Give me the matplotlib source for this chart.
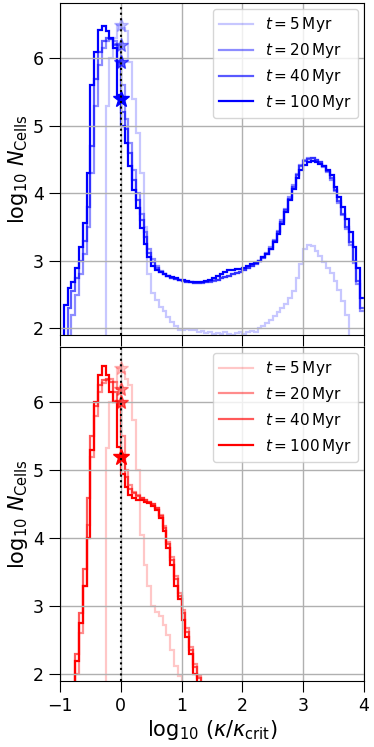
import matplotlib
matplotlib.use("Agg")
import matplotlib.pyplot as plt
import numpy as np

# histogram bins in log10(kappa / kappa_crit)
BIN_EDGES = np.linspace(-1.0, 4.0, 81)

TIMES = [5, 20, 40, 100]
ALPHAS = [0.22, 0.45, 0.65, 1.0]

# top panel (blue) log10 N per bin, ten bins per row
blue_5 = [0] * 12 + [
    5.3, 6.0, 6.3, 6.5, 6.45, 6.4, 5.95, 5.4, 4.9, 4.3,
    3.5, 2.8, 2.52, 2.42, 2.32, 2.26, 2.17, 2.1, 2.04, 1.98,
    1.97, 1.99, 1.97, 1.98, 1.94, 1.96, 1.93, 1.95, 1.92, 1.93,
    1.91, 1.94, 1.92, 1.9, 1.93, 1.94, 1.92, 1.95, 1.96, 1.94,
    2.0, 2.04, 2.08, 2.12, 2.18, 2.24, 2.3, 2.36, 2.45, 2.55,
    2.75, 2.95, 3.18, 3.24, 3.22, 3.15, 3.07, 2.98, 2.9, 2.82,
    2.7, 2.56, 2.4, 2.2] + [0] * 4
blue_20 = [
    0, 0, 0, 2.2, 2.5, 2.8, 3.1, 3.5, 4.3, 5.3,
    5.9, 6.15, 6.25, 6.28, 6.25, 6.2, 5.6, 5.1, 4.75, 4.35,
    4.0, 3.7, 3.42, 3.18, 3.02, 2.92, 2.85, 2.8, 2.77, 2.75,
    2.73, 2.71, 2.7, 2.69, 2.68, 2.67, 2.67, 2.68, 2.69, 2.7,
    2.71, 2.72, 2.74, 2.76, 2.78, 2.8, 2.82, 2.84, 2.86, 2.89,
    2.92, 2.96, 3.0, 3.05, 3.12, 3.2, 3.31, 3.44, 3.6, 3.77,
    3.95, 4.12, 4.29, 4.42, 4.5, 4.53, 4.53, 4.5, 4.46, 4.39,
    4.31, 4.2, 4.03, 3.86, 3.68, 3.47, 3.24, 2.97, 2.66, 2.25]
blue_40 = [
    0, 0, 2.3, 2.55, 2.75, 3.0, 3.3, 3.8, 4.7, 5.7,
    6.1, 6.25, 6.3, 6.28, 6.2, 5.95, 5.2, 4.95, 4.6, 4.2,
    3.9, 3.6, 3.35, 3.12, 2.98, 2.9, 2.84, 2.8, 2.77, 2.75,
    2.73, 2.71, 2.7, 2.69, 2.68, 2.67, 2.67, 2.67, 2.68, 2.69,
    2.7, 2.72, 2.74, 2.76, 2.78, 2.8, 2.82, 2.84, 2.86, 2.89,
    2.92, 2.95, 2.99, 3.04, 3.1, 3.18, 3.3, 3.43, 3.58, 3.75,
    3.92, 4.1, 4.27, 4.4, 4.48, 4.51, 4.52, 4.5, 4.46, 4.4,
    4.33, 4.22, 4.05, 3.88, 3.7, 3.5, 3.28, 3.0, 2.7, 2.3]
blue_100 = [
    0, 2.35, 2.6, 2.68, 2.9, 3.2, 3.56, 4.3, 5.6, 6.1,
    6.42, 6.48, 6.4, 6.3, 6.15, 5.45, 5.0, 4.75, 4.4, 4.05,
    3.78, 3.48, 3.25, 3.05, 2.93, 2.87, 2.83, 2.8, 2.77, 2.76,
    2.74, 2.72, 2.71, 2.7, 2.69, 2.69, 2.68, 2.69, 2.7, 2.72,
    2.75, 2.78, 2.81, 2.84, 2.86, 2.87, 2.88, 2.88, 2.9, 2.93,
    2.95, 2.97, 3.0, 3.05, 3.1, 3.17, 3.28, 3.4, 3.55, 3.73,
    3.9, 4.06, 4.22, 4.35, 4.42, 4.47, 4.48, 4.47, 4.44, 4.4,
    4.35, 4.27, 4.1, 3.95, 3.8, 3.62, 3.42, 3.2, 2.9, 2.45]

# bottom panel (red)
red_5 = [0] * 12 + [
    5.33, 6.0, 6.3, 6.5, 6.45, 6.35, 6.25, 5.74, 5.0, 4.05,
    3.6, 3.3, 3.0, 2.92, 2.85, 2.72, 2.58, 2.35, 2.12, 1.97] + [0] * 48
red_20 = [0] * 4 + [
    2.0, 2.6, 3.3, 4.2, 5.2, 5.8, 6.15, 6.28, 6.33, 6.35,
    6.3, 6.2, 5.5, 5.0, 4.78, 4.68, 4.64, 4.6, 4.57, 4.54,
    4.5, 4.45, 4.35, 4.18, 3.95, 3.72, 3.45, 3.2, 2.95, 2.68,
    2.4, 2.15, 1.98] + [0] * 43
red_40 = [0] * 4 + [
    2.3, 2.9, 3.55, 4.6, 5.5, 5.95, 6.25, 6.33, 6.35, 6.3,
    6.15, 6.0, 5.2, 4.9, 4.72, 4.66, 4.62, 4.6, 4.57, 4.54,
    4.5, 4.44, 4.33, 4.15, 3.92, 3.68, 3.4, 3.15, 2.9, 2.62,
    2.35, 2.1, 1.95] + [0] * 43
red_100 = [0] * 4 + [
    2.2, 2.75, 3.3, 4.0, 5.3, 6.0, 6.4, 6.53, 6.4, 6.15,
    6.0, 5.35, 4.95, 4.75, 4.63, 4.59, 4.57, 4.56, 4.54, 4.52,
    4.48, 4.42, 4.3, 4.1, 3.85, 3.6, 3.3, 3.1, 2.8, 2.55,
    2.3, 2.0] + [0] * 44

# value at kappa = kappa_crit (star markers)
blue_star = [6.5, 6.2, 5.95, 5.4]
red_star = [6.5, 6.2, 6.0, 5.2]

plt.rcParams["mathtext.fontset"] = "dejavusans"

fig = plt.figure(figsize=(3.74, 7.47), dpi=100)
ax_top = fig.add_axes([0.1604, 0.5515, 0.8128, 0.4445])
ax_bot = fig.add_axes([0.1604, 0.0884, 0.8128, 0.4475])


def draw_panel(ax, series, stars, color):
    for t, alpha, vals, ystar in zip(TIMES, ALPHAS, series, stars):
        ax.stairs(vals, BIN_EDGES, baseline=None, color=color, alpha=alpha,
                  lw=1.6, label=rf"$t = {t}\,\mathrm{{Myr}}$")
        ax.plot([0], [ystar], marker="*", ms=12 if t == 100 else 10,
                color=color, alpha=alpha, ls="none")
    ax.axvline(0, color="black", ls=":", lw=1.5)
    ax.set_xlim(-1, 4)
    ax.set_ylim(1.9, 6.82)
    ax.set_xticks([-1, 0, 1, 2, 3, 4])
    ax.set_yticks([2, 3, 4, 5, 6])
    ax.grid(True, color="#b0b0b0", lw=1)
    ax.tick_params(direction="out", length=8, labelsize=12.5)
    ax.set_ylabel(r"$\log_{10}\,N_{\rm Cells}$", fontsize=15, labelpad=2)
    ax.legend(loc="upper right", fontsize=11, handlelength=2.2,
              labelspacing=0.45, borderaxespad=0.4)


draw_panel(ax_top, [blue_5, blue_20, blue_40, blue_100], blue_star, "#0000ff")
draw_panel(ax_bot, [red_5, red_20, red_40, red_100], red_star, "#ff0000")
ax_top.tick_params(labelbottom=False)
ax_bot.set_xlabel(r"$\log_{10}\,(\kappa/\kappa_{\rm crit})$", fontsize=15,
                  labelpad=2)

fig.savefig("out.png", dpi=100)
